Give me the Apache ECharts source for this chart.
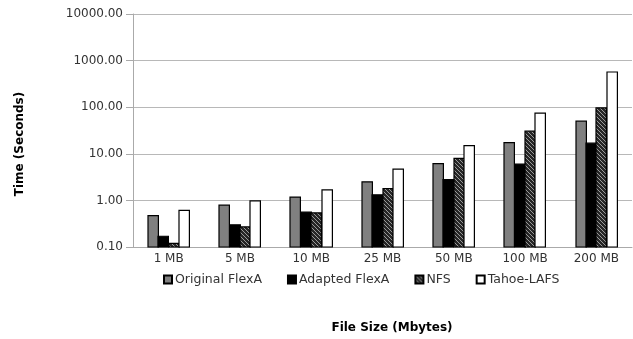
<!DOCTYPE html>
<html>
<head>
<meta charset="utf-8">
<script src="https://cdn.jsdelivr.net/npm/echarts@6/dist/echarts.min.js"></script>
<style>
html,body{margin:0;padding:0;background:#fff;}
#chart{width:633px;height:339px;}
</style>
</head>
<body>
<div id="chart"></div>
<script>
const categories = ['1 MB', '5 MB', '10 MB', '25 MB', '50 MB', '100 MB', '200 MB'];
const originalFlexA = [0.47, 0.79, 1.18, 2.51, 6.18, 17.4, 50.1];
const adaptedFlexA = [0.17, 0.30, 0.56, 1.32, 2.81, 6.0, 16.9];
const nfs = [0.12, 0.27, 0.54, 1.80, 8.0, 30.6, 96.6];
const tahoeLAFS = [0.61, 0.98, 1.69, 4.69, 15.0, 74.3, 570];
const seriesNames = ['Original FlexA', 'Adapted FlexA', 'NFS', 'Tahoe-LAFS'];
const axisMin = 0.1;
const axisMax = 10000;

function hatch() {
  const c = document.createElement('canvas');
  c.width = 4; c.height = 4;
  const g = c.getContext('2d');
  g.fillStyle = '#262626';
  g.fillRect(0, 0, 4, 4);
  g.strokeStyle = '#9a9a9a';
  g.lineWidth = 1;
  g.beginPath();
  g.moveTo(0, 0); g.lineTo(4, 4);
  g.moveTo(-2, 2); g.lineTo(2, 6);
  g.moveTo(2, -2); g.lineTo(6, 2);
  g.stroke();
  return {image: c, repeat: 'repeat'};
}

const chart = echarts.init(document.getElementById('chart'), null, {renderer: 'canvas'});
const font = 'DejaVu Sans';
const fills = ['#808080', '#000000', hatch(), '#ffffff'];
const datas = [originalFlexA, adaptedFlexA, nfs, tahoeLAFS];
const BAR_W = 10.4;

function makeRender(i) {
  return function (params, api) {
    const ci = api.value(0);
    const top = api.coord([ci, api.value(1)]);
    const base = api.coord([ci, axisMin]);
    const x = top[0] + (i - 2) * BAR_W;
    return {
      type: 'rect',
      shape: {x: Math.round(x), y: top[1], width: BAR_W, height: base[1] - top[1]},
      style: {fill: fills[i], stroke: '#000', lineWidth: 1.2}
    };
  };
}

chart.setOption({
  animation: false,
  backgroundColor: '#fff',
  textStyle: {fontFamily: font},
  grid: {left: 133, right: 1, top: 14, bottom: 92, containLabel: false},
  legend: {
    data: seriesNames,
    top: 268,
    left: 158,
    itemWidth: 8,
    itemHeight: 8,
    itemGap: 25,
    icon: 'rect',
    textStyle: {fontFamily: font, fontSize: 12.5, color: '#333', padding: [0, 0, 0, -2]}
  },
  xAxis: {
    type: 'category',
    data: categories,
    axisLine: {lineStyle: {color: '#aaa', width: 1}},
    axisTick: {show: false},
    axisLabel: {fontFamily: font, fontSize: 12, color: '#333', margin: 6},
    splitLine: {show: false}
  },
  yAxis: {
    type: 'log',
    logBase: 10,
    min: axisMin,
    max: axisMax,
    axisLine: {show: true, lineStyle: {color: '#aaa', width: 1}},
    axisTick: {show: true, length: 7, lineStyle: {color: '#aaa'}},
    axisLabel: {fontFamily: font, fontSize: 12, color: '#333', margin: 10,
      formatter: v => Number(v).toFixed(2)},
    splitLine: {show: true, lineStyle: {color: '#b8b8b8', width: 1}},
    minorTick: {show: false}
  },
  series: seriesNames.map((n, i) => ({
    name: n,
    type: 'custom',
    renderItem: makeRender(i),
    encode: {x: 0, y: 1},
    data: datas[i].map((v, j) => [j, v]),
    itemStyle: {color: fills[i], borderColor: '#000', borderWidth: 1}
  })),
  graphic: [
    {type: 'text', x: 20, y: 144, rotation: Math.PI / 2,
      style: {text: 'Time (Seconds)', font: 'bold 12px "DejaVu Sans"', fill: '#000',
        textAlign: 'center', textVerticalAlign: 'middle'}},
    {type: 'text', x: 392, y: 328,
      style: {text: 'File Size (Mbytes)', font: 'bold 12px "DejaVu Sans"', fill: '#000',
        textAlign: 'center', textVerticalAlign: 'middle'}}
  ]
});
</script>
</body>
</html>
